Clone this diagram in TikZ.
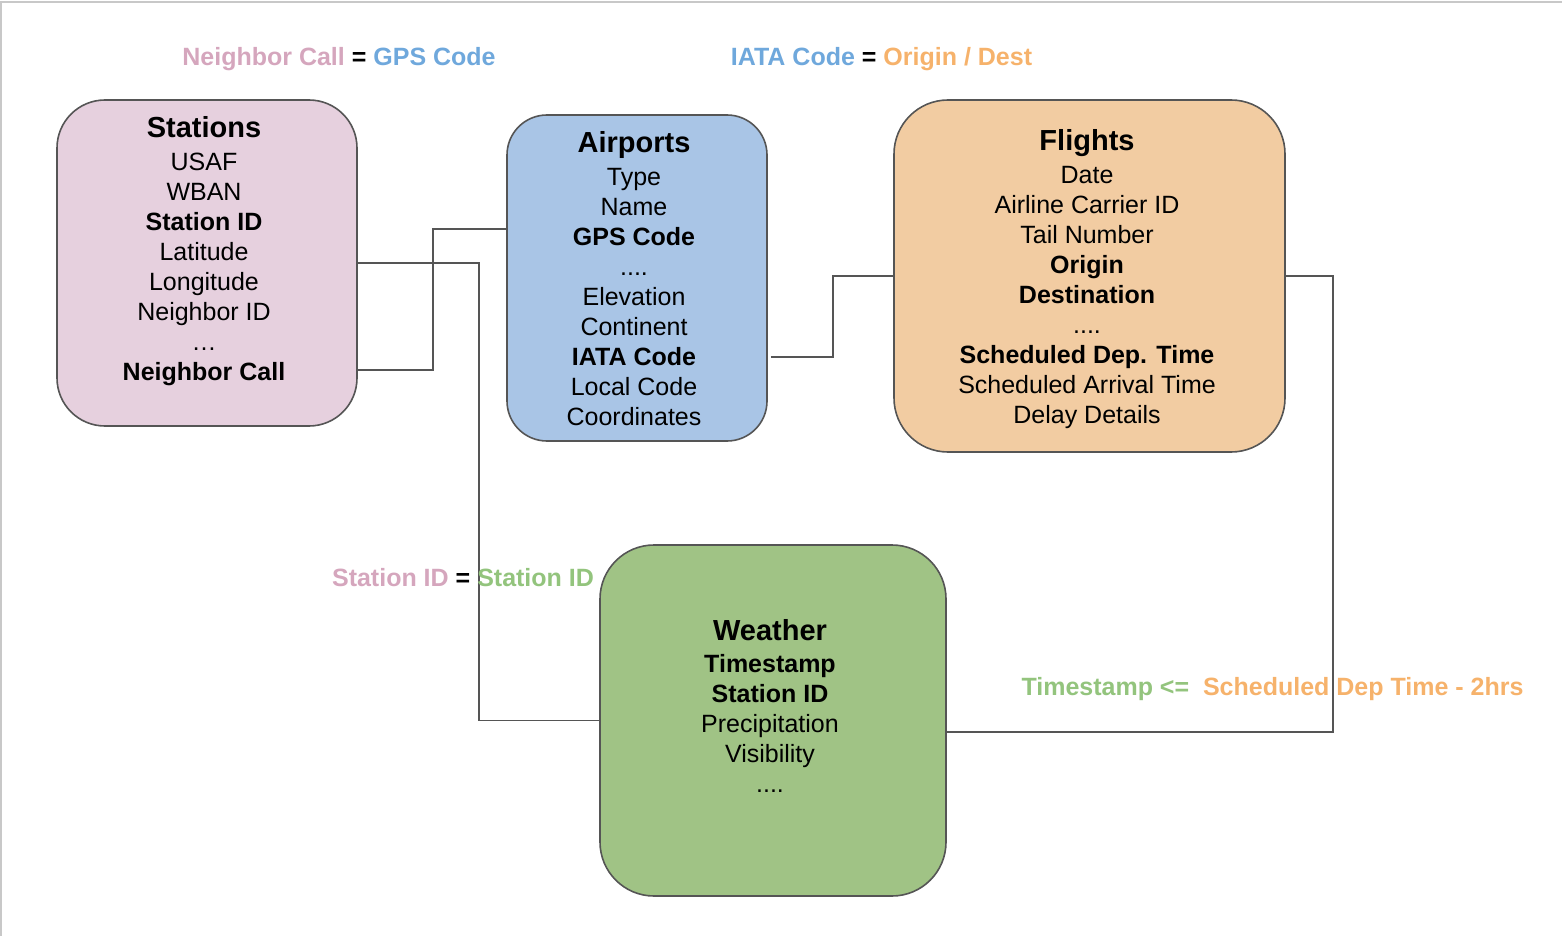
\documentclass[tikz,border=0pt]{standalone}
\usepackage{fontspec}
\setmainfont{Liberation Sans}
\usetikzlibrary{fit,calc}
\definecolor{stafill}{HTML}{E6D0DE}
\definecolor{airfill}{HTML}{A9C5E6}
\definecolor{fltfill}{HTML}{F2CCA2}
\definecolor{wthfill}{HTML}{A0C385}
\definecolor{edgegray}{HTML}{555555}
\definecolor{framegray}{HTML}{C8C8C8}
\definecolor{pinkt}{HTML}{D5A6BD}
\definecolor{bluet}{HTML}{6FA8DC}
\definecolor{greent}{HTML}{93C47D}
\definecolor{oranget}{HTML}{F6B26B}
\newcommand{\ttl}{\fontsize{14.5}{15}\selectfont\bfseries}
\begin{document}
\begin{tikzpicture}[x=0.5pt,y=-0.5pt,
  entity/.style={draw=edgegray, line width=0.8pt, inner sep=0pt},
  conn/.style={draw=edgegray, line width=0.95pt},
  txt/.style={align=center, font=\fontsize{12.5}{15}\selectfont, inner sep=0pt, anchor=base},
  lbl/.style={font=\fontsize{12.5}{15}\selectfont\bfseries, inner sep=0pt, anchor=base}]
\useasboundingbox (0,0) rectangle (1562,936);
\draw[framegray, line width=0.6pt] (0,2) -- (1562,2) (1,2) -- (1,936);

\node[entity, fill=stafill, rounded corners=24pt, fit={(57,100) (357,426)}] (stations) {};
\node[entity, fill=airfill, rounded corners=20pt, fit={(507,115) (767,441)}] (airports) {};
\node[entity, fill=fltfill, rounded corners=27pt, fit={(894,100) (1285,452)}] (flights) {};
\node[entity, fill=wthfill, rounded corners=27pt, fit={(600,545) (946,896)}] (weather) {};

\draw[conn] ([yshift=-53.5pt]stations.east) -- ++(75,0) |- ([yshift=24.5pt]airports.west);
\draw[conn] (stations.east) -- ++(121,0) |- (weather.west);
\draw[conn] ([xshift=1.5pt,yshift=-39.5pt]airports.east) -- ++(62,0) |- (flights.west);
\draw[conn] (flights.east) -- ++(47,0) |- ([yshift=-5.75pt]weather.east);

\node[txt] (stations-text) at (204,380) {{\ttl Stations}\\[1.5pt] USAF\\ WBAN\\ \textbf{Station ID}\\ Latitude\\ Longitude\\ Neighbor ID\\ …\\ \textbf{Neighbor Call}};
\node[txt] (airports-text) at (634,425.5) {{\ttl Airports}\\[1.5pt] Type\\ Name\\ \textbf{GPS Code}\\ ....\\ Elevation\\ Continent\\ \textbf{IATA Code}\\ Local Code\\ Coordinates};
\node[txt] (flights-text) at (1087,423.5) {{\ttl Flights}\\[1.5pt] Date\\ Airline Carrier ID\\ Tail Number\\ \textbf{Origin}\\ \textbf{Destination}\\ ....\\ \textbf{Scheduled Dep. Time}\\ Scheduled Arrival Time\\ Delay Details};
\node[txt] (weather-text) at (770,792.5) {{\ttl Weather}\\[1pt] \textbf{Timestamp}\\ \textbf{Station ID}\\ Precipitation\\ Visibility\\ ....};

\node[lbl] (lbl-gps) at (339,66) {\textcolor{pinkt}{Neighbor Call} = \textcolor{bluet}{GPS Code}};
\node[lbl] (lbl-iata) at (881.5,66) {\textcolor{bluet}{IATA Code} = \textcolor{oranget}{Origin / Dest}};
\node[lbl] (lbl-sid) at (463,586) {\textcolor{pinkt}{Station ID} = \textcolor{greent}{Station ID}};
\node[lbl] (lbl-time) at (1272.5,695) {\textcolor{greent}{Timestamp <=}~~\textcolor{oranget}{Scheduled Dep Time - 2hrs}};
\end{tikzpicture}
\end{document}
